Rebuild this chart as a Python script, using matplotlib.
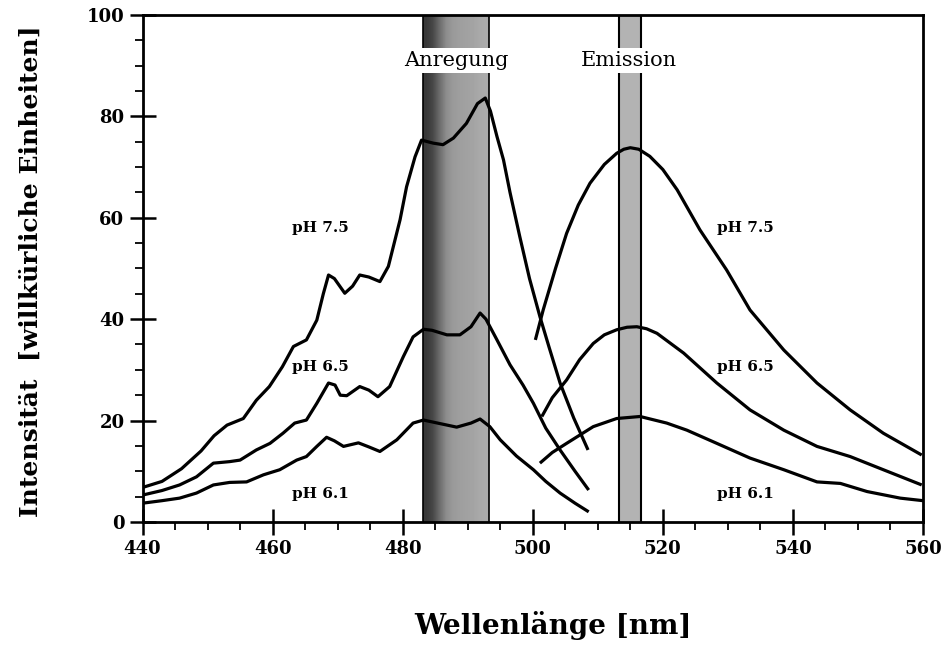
import numpy as np
import matplotlib as mpl
mpl.use('Agg')
from matplotlib import pyplot as plt
import matplotlib.ticker as ticker

mpl.rcParams['font.family'] = ['DejaVu Serif']
mpl.rcParams['font.weight'] = 'bold'

# excitation spectra (Anregung)
ex75_x = [440, 443, 446, 449, 451, 453, 455.5, 457.5, 459.5, 461.5, 463.2, 465.2, 466.8, 467.8,
          468.6, 469.5, 471.1, 472.3, 473.4, 474.8, 476.5, 477.8, 479.6, 480.6, 481.9, 482.9,
          484.7, 486.2, 487.8, 489.8, 491.5, 492.7, 493.5, 494.5, 495.5, 496.5, 498, 499.5,
          501.1, 502.5, 504.2, 506.3, 508.5]
ex75_y = [6.8, 8.0, 10.5, 14, 17, 19.1, 20.4, 24, 26.7, 30.6, 34.6, 35.9, 39.8, 45,
          48.7, 48, 45.1, 46.5, 48.7, 48.3, 47.4, 50.4, 59.6, 66.1, 72, 75.3,
          74.7, 74.4, 75.7, 78.6, 82.5, 83.6, 81, 76, 71.4, 65, 56.3, 48,
          40.5, 34.5, 27.4, 20.5, 14.2]

ex65_x = [440, 443, 445.7, 448.3, 450.9, 453.4, 455, 457.5, 459.6, 461.6, 463.4, 465.2, 466.8,
          468.6, 469.6, 470.4, 471.4, 473.4, 474.8, 476.2, 478, 480.1, 481.6, 483.2, 484.5,
          486.8, 488.8, 490.5, 491.9, 492.8, 494.5, 496.5, 498.5, 500.1, 502, 504.2, 506.5, 508.6]
ex65_y = [5.3, 6.2, 7.3, 8.9, 11.6, 11.9, 12.2, 14.2, 15.5, 17.5, 19.5, 20.1, 23.4,
          27.4, 27, 25.0, 24.9, 26.7, 26, 24.7, 26.7, 32.6, 36.5, 38.0, 37.8,
          36.9, 36.9, 38.5, 41.2, 40, 35.9, 31, 27, 23.4, 18.5, 14.2, 10, 6.3]

ex61_x = [440, 443, 445.7, 448.3, 450.9, 453.4, 456, 458.6, 461.1, 463.7, 465.2, 466.8, 468.3,
          469.5, 470.9, 473.2, 474.8, 476.5, 479.1, 481.6, 483.2, 485, 488.3, 490.5, 491.9,
          493.4, 495, 497.5, 500.1, 502, 504.2, 506.5, 508.6]
ex61_y = [3.7, 4.2, 4.7, 5.7, 7.3, 7.8, 7.9, 9.3, 10.3, 12.2, 12.9, 14.9, 16.7,
          16, 14.9, 15.6, 14.8, 13.9, 16.2, 19.5, 20.1, 19.6, 18.7, 19.5, 20.3,
          18.8, 16.2, 13, 10.3, 8, 5.7, 3.7, 2.0]

# emission spectra
em75_x = [500.4, 501.6, 503.5, 505.2, 507, 508.8, 511, 512.9, 514, 515, 516.3, 518, 520, 522.2,
          525.7, 529.8, 533.4, 538.6, 543.7, 548.8, 553.9, 559.8]
em75_y = [35.9, 41.8, 50, 56.9, 62.5, 66.8, 70.5, 72.7, 73.5, 73.8, 73.5, 72.1, 69.5, 65.5,
          57.6, 49.7, 41.8, 33.9, 27.4, 22.1, 17.5, 13.2]

em65_x = [501.4, 503, 505.2, 507.2, 509.3, 511, 512.9, 514.5, 516, 517.5, 519.1, 523.2, 528.3,
          533.4, 538.6, 543.7, 548.8, 553.9, 559.8]
em65_y = [20.8, 24.5, 28.0, 32, 35.2, 36.9, 37.9, 38.4, 38.5, 38.1, 37.2, 33.3, 27.4,
          22.1, 18.1, 14.9, 12.9, 10.3, 7.3]

em61_x = [501.1, 503, 505.2, 509.3, 512.9, 516.5, 520.6, 523.7, 528.3, 533.4, 538.6,
          543.7, 547.3, 551.4, 556.5, 560]
em61_y = [11.6, 13.7, 15.5, 18.8, 20.4, 20.8, 19.5, 18.1, 15.5, 12.6, 10.3,
          7.9, 7.6, 6.0, 4.7, 4.2]

ph_labels = ['pH 7.5', 'pH 6.5', 'pH 6.1']
label_y = [58, 30.5, 5.5]

exc_band = (483.2, 493.2)
emi_band = (513.2, 516.6)

fig = plt.figure(figsize=(9.5, 6.46), dpi=100)
ax = fig.add_axes([0.150, 0.192, 0.8216, 0.785])

# excitation band with dark left edge
shade = np.array([[0.22, 0.28, 0.42, 0.55, 0.6, 0.62, 0.63, 0.64, 0.66, 0.67]])
ax.imshow(shade, cmap='gray', vmin=0, vmax=1, aspect='auto',
          extent=(exc_band[0], exc_band[1], 0, 100), zorder=1, interpolation='bilinear')
ax.axvline(exc_band[0], color='k', lw=1.2, zorder=2)
ax.axvline(exc_band[1], color='k', lw=1.2, zorder=2)
ax.axvspan(emi_band[0], emi_band[1], color='0.7', zorder=1, lw=0)
ax.axvline(emi_band[0], color='k', lw=1.5, zorder=2)
ax.axvline(emi_band[1], color='k', lw=1.5, zorder=2)

lw = 2.3
for xs, ys in [(ex75_x, ex75_y), (ex65_x, ex65_y), (ex61_x, ex61_y),
               (em75_x, em75_y), (em65_x, em65_y), (em61_x, em61_y)]:
    ax.plot(xs, ys, color='k', lw=lw, solid_capstyle='butt', solid_joinstyle='round', zorder=3)

for lab, yy in zip(ph_labels, label_y):
    ax.text(467.3, yy, lab, fontsize=11, ha='center', va='center', zorder=4)
    ax.text(532.7, yy, lab, fontsize=11, ha='center', va='center', zorder=4)

ax.text(488.3, 91, 'Anregung', fontsize=15, fontweight='normal', ha='center', va='center', zorder=4,
        bbox=dict(facecolor='white', edgecolor='none', pad=2))
ax.text(514.8, 91, 'Emission', fontsize=15, fontweight='normal', ha='center', va='center', zorder=4,
        bbox=dict(facecolor='white', edgecolor='none', pad=2))

ax.set_xlim(440, 560)
ax.set_ylim(0, 100)
ax.set_xticks(np.arange(440, 561, 20))
ax.set_yticks(np.arange(0, 101, 20))
ax.xaxis.set_minor_locator(ticker.MultipleLocator(5))
ax.yaxis.set_minor_locator(ticker.MultipleLocator(5))
ax.tick_params(which='major', direction='inout', length=19, width=1.8, labelsize=13)
ax.tick_params(which='minor', direction='out', length=6, width=1.3)
for sp in ax.spines.values():
    sp.set_linewidth(2)

fig.text(0.582, 0.032, 'Wellenlänge [nm]', fontsize=20, fontweight='bold', ha='center', va='center')
fig.text(0.032, 0.58, 'Intensität  [willkürliche Einheiten]', fontsize=18, fontweight='bold',
         ha='center', va='center', rotation=90)

plt.savefig('out.png', dpi=100)
